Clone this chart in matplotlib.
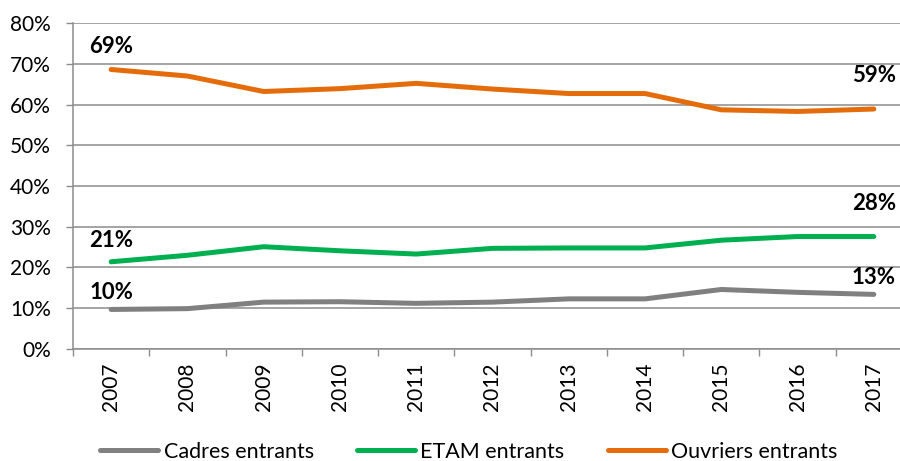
import matplotlib
matplotlib.use("Agg")
import matplotlib.pyplot as plt
from matplotlib.ticker import MultipleLocator, FuncFormatter

plt.rcParams['font.family'] = ['Lato', 'DejaVu Sans']

years = ['2007', '2008', '2009', '2010', '2011', '2012', '2013', '2014', '2015', '2016', '2017']
cadres = [9.7, 9.9, 11.5, 11.6, 11.2, 11.5, 12.3, 12.3, 14.6, 13.9, 13.4]
etam = [21.4, 23.0, 25.1, 24.1, 23.3, 24.7, 24.8, 24.8, 26.7, 27.6, 27.6]
ouvriers = [68.6, 67.0, 63.2, 63.9, 65.2, 63.8, 62.7, 62.7, 58.7, 58.3, 58.9]

series = [
    ('Cadres entrants', cadres, '#808080', (12, 12)),
    ('ETAM entrants', etam, '#00B050', (15, 24)),
    ('Ouvriers entrants', ouvriers, '#E46C0A', (16.5, 24)),
]

fig = plt.figure(figsize=(9, 4.61), dpi=100)
ax = fig.add_axes([0.0811, 0.243, 0.9322, 0.707])

x = list(range(len(years)))
handles = []
for name, vals, color, (off_first, off_last) in series:
    h, = ax.plot(x, vals, color=color, lw=3.6, solid_capstyle='round',
                 solid_joinstyle='round', label=name, zorder=3)
    handles.append(h)
    for i, off in ((0, off_first), (len(vals) - 1, off_last)):
        ax.annotate(f"{round(vals[i])}%", (x[i], vals[i]), xytext=(0, off),
                    textcoords='offset points', ha='center', va='center',
                    fontsize=16, fontweight='bold', color='black', zorder=4)

ax.set_xlim(-0.5, len(years) - 0.5)
ax.set_ylim(0, 80)
ax.yaxis.set_major_locator(MultipleLocator(10))
ax.yaxis.set_major_formatter(FuncFormatter(lambda v, p: f"{int(round(v))}%"))
ax.set_xticks([i - 0.5 for i in range(len(years) + 1)], minor=False)
ax.set_xticklabels([])
ax.set_xticks(x, minor=True)
ax.set_xticklabels(years, minor=True, rotation=90, fontsize=15)
ax.tick_params(axis='x', which='major', length=5, width=1, color='#8C8C8C', direction='out')
ax.tick_params(axis='x', which='minor', length=0, pad=10)
ax.tick_params(axis='y', length=5, width=1, color='#8C8C8C', labelsize=15, pad=11, direction='out')

ax.grid(axis='y', color='#8C8C8C', lw=1.1, zorder=1)
ax.set_axisbelow(True)
for s in ('top', 'right'):
    ax.spines[s].set_visible(False)
for s in ('left', 'bottom'):
    ax.spines[s].set_color('#8C8C8C')
    ax.spines[s].set_linewidth(1.1)

fig.legend(handles=handles, loc='center', bbox_to_anchor=(0.521, 0.02),
           ncol=3, frameon=False, fontsize=15.5, handlelength=2.7,
           handletextpad=0.25, columnspacing=2.0)

fig.savefig('out.png', dpi=100)
